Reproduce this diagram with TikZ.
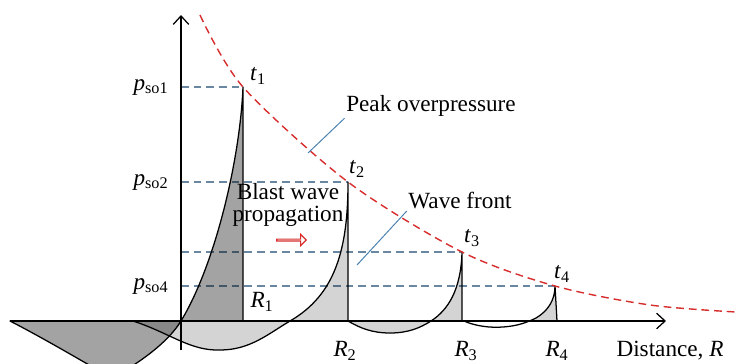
\documentclass[tikz,border=0pt]{standalone}
\usepackage{fontspec}
\setmainfont{Liberation Serif}
\usetikzlibrary{shapes.arrows,arrows.meta}

\definecolor{levelblue}{RGB}{105,135,160}
\definecolor{peakred}{RGB}{215,45,45}
\definecolor{leaderblue}{RGB}{75,130,175}

\begin{document}
\begin{tikzpicture}[
    x=0.025cm, y=-0.025cm,
    every node/.style={font=\fontsize{16.5}{15.5}\selectfont, inner sep=1pt},
    axis/.style={line width=0.9pt, -{Straight Barb[length=6pt,width=11pt]}},
    wave/.style={line width=0.9pt, line join=round},
    darkwave/.style={fill=black, fill opacity=.36},
    lightwave/.style={fill=black, fill opacity=.17},
    level/.style={dash pattern=on 5.5pt off 3.5pt, line width=0.8pt, levelblue},
    peak/.style={dash pattern=on 5.5pt off 3.5pt, line width=1pt, peakred},
    leader/.style={line width=0.7pt, leaderblue},
    ]

    \useasboundingbox (0,0) rectangle (736,363);

    % --- peaks and their feet ---
    \coordinate (t1) at (243,87);  \coordinate (R1) at (243,321);
    \coordinate (t2) at (348,182); \coordinate (R2) at (348,321);
    \coordinate (t3) at (462,252); \coordinate (R3) at (462,321);
    \coordinate (t4) at (555,286); \coordinate (R4) at (557,321);

    % --- ends of the axes ---
    \coordinate (O) at (181,321);
    \coordinate (xl) at (10,321);  \coordinate (xr) at (666,321);
    \coordinate (yb) at (181,350); \coordinate (yt) at (181,15);

    % --- levels on the axis ---
    \coordinate (p1) at (181,87);  \coordinate (p2) at (181,182);
    \coordinate (p3) at (181,252); \coordinate (p4) at (181,286);

    % --- dashed levels ---
    \draw[level] (p1) -- (t1);
    \draw[level] (p2) -- (t2);
    \draw[level] (p3) -- (t3);
    \draw[level] (p4) -- (t4);

    % --- waves (cut at the bottom edge) ---
    \begin{scope}
      \clip (0,0) rectangle (736,363);
      % first wave
      \filldraw[wave, darkwave] (xl) .. controls (45,339) and (80,360) .. (112,378)
        .. controls (130,368) and (165,347) .. (O)
        .. controls (215,265) and (240,160) .. (t1) -- (R1) -- cycle;
      % second wave
      \filldraw[wave, lightwave] (133,321) .. controls (170,333) and (190,351) .. (220,350)
        .. controls (250,350) and (268,334) .. (290,321)
        .. controls (335,295) and (348,250) .. (t2) -- (R2) -- cycle;
      % third wave
      \filldraw[wave, lightwave] (R2) .. controls (360,328) and (372,333) .. (390,333)
        .. controls (408,333) and (420,328) .. (431,321)
        .. controls (448,310) and (461,290) .. (t3) -- (R3) -- cycle;
    \end{scope}
    % fourth wave, only its positive part is shaded
    \begin{scope}
      \clip (0,0) rectangle (736,321);
      \fill[lightwave] (464,321) .. controls (475,326) and (490,328) .. (503,327)
        .. controls (518,326) and (528,322) .. (536,318)
        .. controls (548,311) and (555,300) .. (t4) -- (R4) -- cycle;
    \end{scope}
    \draw[wave] (464,321) .. controls (475,326) and (490,328) .. (503,327)
      .. controls (518,326) and (528,322) .. (536,318)
      .. controls (548,311) and (555,300) .. (t4) -- (R4);

    % --- axes ---
    \draw[axis] (xl) -- (xr);
    \draw[axis] (yb) -- (yt);

    % --- peak overpressure curve ---
    \draw[peak] plot[smooth] coordinates {(200,15) (243,87) (348,182) (462,252) (555,286) (650,305) (736,312)};

    % --- labels ---
    \node (t1lab) at (258,76) {\textit{t}\textsubscript{1}};
    \node (t2lab) at (357,169) {\textit{t}\textsubscript{2}};
    \node (t3lab) at (472,238) {\textit{t}\textsubscript{3}};
    \node (t4lab) at (562,274) {\textit{t}\textsubscript{4}};

    \node (R1lab) at (262,302) {\textit{R}\textsubscript{1}};
    \node (R2lab) at (345,351) {\textit{R}\textsubscript{2}};
    \node (R3lab) at (466,351) {\textit{R}\textsubscript{3}};
    \node (R4lab) at (557,351) {\textit{R}\textsubscript{4}};
    \node (xlab) at (670,351) {Distance, \textit{R}};

    \node (p1lab) at (151,87) {\textit{p}\textsubscript{so1}};
    \node (p2lab) at (151,182) {\textit{p}\textsubscript{so2}};
    \node (p4lab) at (151,286) {\textit{p}\textsubscript{so4}};

    \node (peaklab) at (431,106) {Peak overpressure};
    \node (frontlab) at (460,201) {Wave front};
    \node[align=center] (blastlab) at (288,205) {Blast wave\\propagation};

    % --- hollow arrow ---
    \node[single arrow, draw=peakred, fill=white, line width=0.8pt,
          minimum height=21pt, minimum width=8pt, inner sep=0pt,
          single arrow head extend=2pt] (dir) at (291,240) {};

    % --- leaders ---
    \coordinate (pk) at (308,153);
    \coordinate (fr) at (357,265);
    \draw[leader] (peaklab.south west) -- (pk);
    \draw[leader] (frontlab.south west) -- (fr);

\end{tikzpicture}
\end{document}
